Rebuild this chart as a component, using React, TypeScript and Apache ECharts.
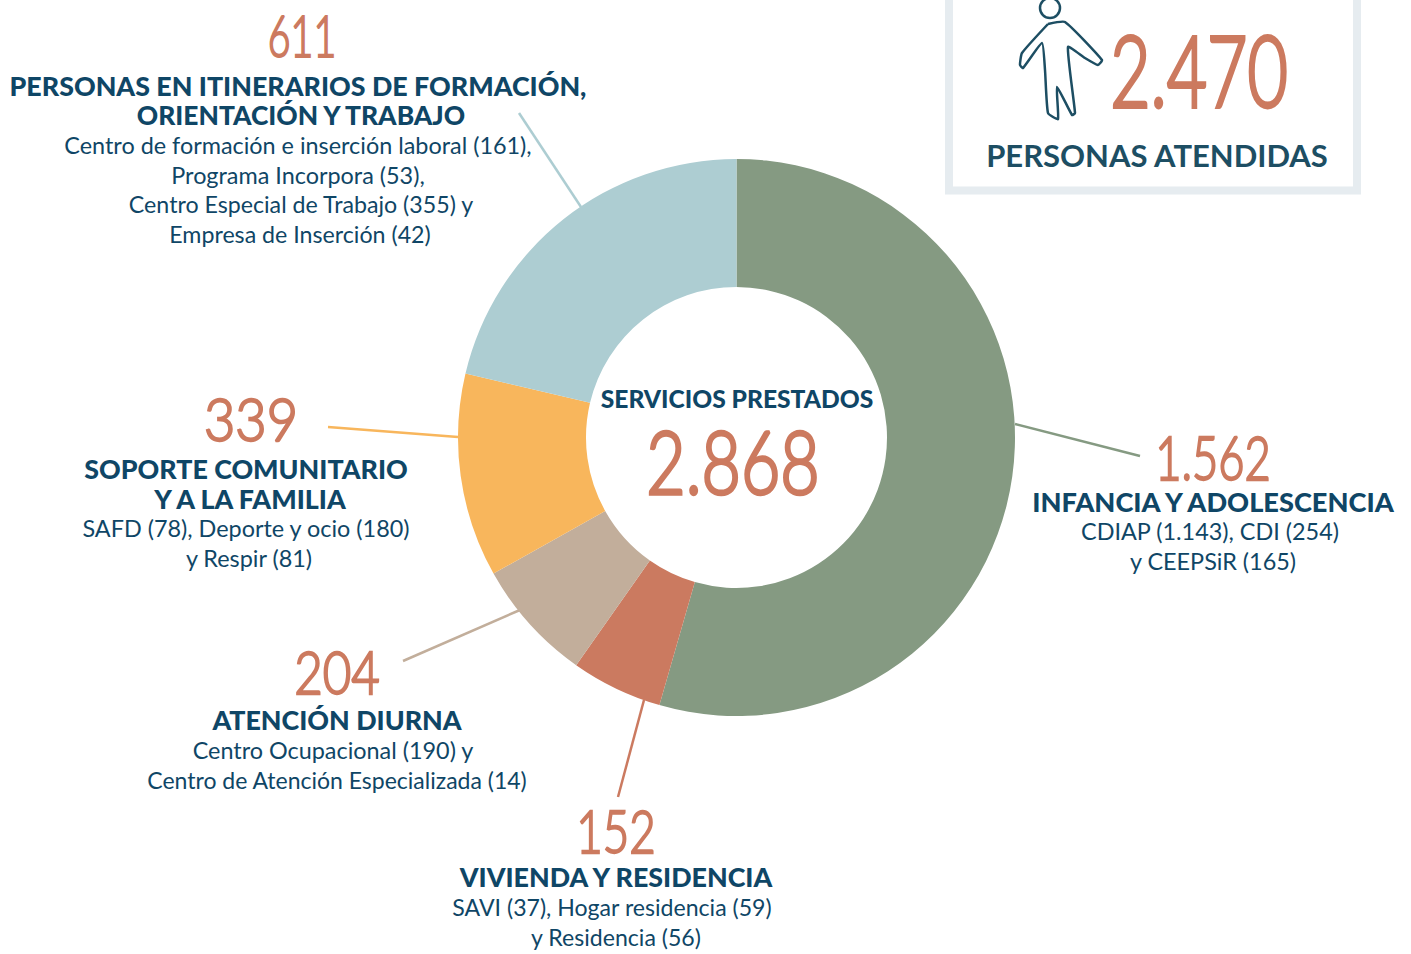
import React, { useEffect, useRef } from "react";
import * as echarts from "echarts";

const categories = ["INFANCIA Y ADOLESCENCIA", "VIVIENDA Y RESIDENCIA", "ATENCIÓN DIURNA", "SOPORTE COMUNITARIO Y A LA FAMILIA", "PERSONAS EN ITINERARIOS DE FORMACIÓN, ORIENTACIÓN Y TRABAJO"];
const values = [1562, 152, 204, 339, 611];
const sliceColors = ["#859a82", "#cb7a60", "#c2ae9b", "#f8b65c", "#adcdd2"];
const valueLabels = ["1.562", "152", "204", "339", "611"];
const totalServices = "2.868";
const totalPeople = "2.470";

const NAVY = "#0f4666";
const ORANGE = "#cc7a5f";
const HEAD = "Lato";

function num(text: string, x: number, y: number, size: number, scaleX: number) {
  return {
    type: "text", x, y, scaleX, silent: true,
    style: { text, font: `300 ${size}px Lato`, fill: ORANGE, stroke: ORANGE, lineWidth: size / 26, lineJoin: "round", align: "center", verticalAlign: "middle" },
  };
}
function bold(text: string, x: number, y: number, size = 26.8, weight = 900, fill = NAVY) {
  return {
    type: "text", x, y, silent: true,
    style: { text, font: `${weight} ${size}px ${HEAD}`, fill, align: "center", verticalAlign: "middle" },
  };
}
function sub(text: string, x: number, y: number, size = 23.4) {
  return {
    type: "text", x, y, silent: true,
    style: { text, font: `400 ${size}px Lato`, fill: NAVY, align: "center", verticalAlign: "middle" },
  };
}
function lead(x1: number, y1: number, x2: number, y2: number, stroke: string) {
  return { type: "line", silent: true, shape: { x1, y1, x2, y2 }, style: { stroke, lineWidth: 2.5 } };
}

export default function App() {
  const ref = useRef<HTMLDivElement>(null);
  useEffect(() => {
    const chart = echarts.init(ref.current!, null, { renderer: "svg" });
    chart.setOption({
      animation: false,
      backgroundColor: "#ffffff",
      series: [{
        type: "pie",
        center: [736.5, 437.5],
        radius: [150.5, 278.5],
        startAngle: 90,
        clockwise: true,
        silent: true,
        label: { show: false },
        labelLine: { show: false },
        data: categories.map((name, i) => ({ name, value: values[i], itemStyle: { color: sliceColors[i] } })),
      }],
      graphic: { elements: [
        { type: "rect", silent: true, shape: { x: 949, y: -10, width: 408, height: 200.5 }, style: { fill: "#fff", stroke: "#e6ecf0", lineWidth: 8 } },
        lead(519, 113, 581, 207, sliceColors[4]),
        lead(328, 427, 458, 437, sliceColors[3]),
        lead(403, 661, 520, 610, sliceColors[2]),
        lead(618, 797, 644, 700, sliceColors[1]),
        lead(1015, 424, 1140, 456, sliceColors[0]),

        bold("SERVICIOS PRESTADOS", 737, 398, 24.6),
        num(totalServices, 733, 461, 87, 0.78),

        num(valueLabels[4], 302, 35, 57, 0.69),
        bold("PERSONAS EN ITINERARIOS DE FORMACIÓN,", 298, 86),
        bold("ORIENTACIÓN Y TRABAJO", 301, 115, 26.4),
        sub("Centro de formación e inserción laboral (161),", 298, 145),
        sub("Programa Incorpora (53),", 298, 175),
        sub("Centro Especial de Trabajo (355) y", 301, 204, 23.2),
        sub("Empresa de Inserción (42)", 300, 234, 23.2),

        num(valueLabels[3], 251, 418, 60, 0.9),
        bold("SOPORTE COMUNITARIO", 246, 469),
        bold("Y A LA FAMILIA", 250, 499),
        sub("SAFD (78), Deporte y ocio (180)", 246, 528),
        sub("y Respir (81)", 249, 558),

        num(valueLabels[2], 337, 671, 60, 0.82),
        bold("ATENCIÓN DIURNA", 337, 720),
        sub("Centro Ocupacional (190) y", 333, 750),
        sub("Centro de Atención Especializada (14)", 337, 780, 23),

        num(valueLabels[1], 616, 829, 60, 0.76),
        bold("VIVIENDA Y RESIDENCIA", 616, 877),
        sub("SAVI (37), Hogar residencia (59)", 612, 907, 23.1),
        sub("y Residencia (56)", 616, 937, 23.1),

        num(valueLabels[0], 1213, 456, 62, 0.73),
        bold("INFANCIA Y ADOLESCENCIA", 1213, 501, 27.2),
        sub("CDIAP (1.143), CDI (254)", 1210, 531),
        sub("y CEEPSiR (165)", 1213, 561),

        num(totalPeople, 1199, 69, 98, 0.71),
        bold("PERSONAS ATENDIDAS", 1157, 155, 31, 700, "#1d4e63"),
        { type: "ellipse", silent: true, shape: { cx: 1050, cy: 8, rx: 10, ry: 10 }, style: { fill: "none", stroke: "#1d4e63", lineWidth: 2.5 } },
        { type: "polyline", silent: true, shape: { smooth: 0.15, points: [[1048, 24], [1022, 53], [1020, 65], [1023, 68], [1042, 43], [1045, 70], [1048, 113], [1058, 119], [1057, 87], [1072, 115], [1075, 113], [1068, 47], [1085, 58], [1098, 65], [1102, 60], [1065, 22], [1048, 24]] }, style: { fill: "none", stroke: "#1d4e63", lineWidth: 2.5, lineJoin: "round" } },
      ] },
    });
    return () => chart.dispose();
  }, []);
  return <div ref={ref} style={{ position: "absolute", left: 0, top: 0, width: 1411, height: 954 }} />;
}
